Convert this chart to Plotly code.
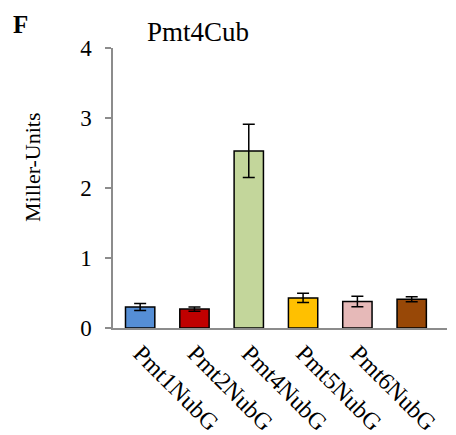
import plotly.graph_objects as go

categories = ["Pmt1NubG", "Pmt2NubG", "Pmt4NubG", "Pmt5NubG", "Pmt6NubG", "NubG"]
values = [0.30, 0.27, 2.53, 0.43, 0.38, 0.41]
errors = [0.05, 0.03, 0.38, 0.065, 0.075, 0.035]
colors = ["#558ED5", "#C00000", "#C3D69B", "#FFC000", "#E6B9B8", "#984807"]
y_ticks = [0, 1, 2, 3, 4]

FONT = "Liberation Serif, Times New Roman, serif"

fig = go.Figure()
fig.add_trace(go.Bar(
    x=list(range(len(categories))),
    y=values,
    width=0.54,
    marker=dict(color=colors, line=dict(color="black", width=1.5)),
    error_y=dict(type="data", array=errors, visible=True, color="black",
                 thickness=1.5, width=6),
))

fig.update_layout(
    width=456, height=435,
    margin=dict(l=113, r=9, t=48, b=107),
    paper_bgcolor="white", plot_bgcolor="white",
    showlegend=False,
    font=dict(family=FONT, color="black", size=22),
    xaxis=dict(
        tickmode="array", tickvals=list(range(len(categories))), ticktext=categories,
        range=[-0.5, 5.65], tickangle=45, showline=True, linecolor="#8c8c8c",
        linewidth=1.5, ticks="", showgrid=False, zeroline=False,
        tickfont=dict(size=24, family=FONT), automargin=False,
    ),
    yaxis=dict(
        range=[0, 4], tickvals=y_ticks, showline=True, linecolor="#8c8c8c",
        linewidth=1.5, ticks="outside", ticklen=6, tickcolor="#8c8c8c",
        tickwidth=1.5, showgrid=False, zeroline=False,
        tickfont=dict(size=23, family=FONT), ticklabelstandoff=9,
        automargin=False,
    ),
    annotations=[
        dict(text="Pmt4Cub", x=198, y=32, font=dict(size=27, family=FONT)),
        dict(text="<b>F</b>", x=20, y=24, font=dict(size=25, family=FONT)),
        dict(text="Miller-Units", x=32, y=167, textangle=-90,
             font=dict(size=22, family=FONT)),
    ],
)

# convert pixel positions of annotations into paper coords
pw = 456 - 113 - 9
ph = 435 - 48 - 107
for ann in fig.layout.annotations:
    px, py = ann.x, ann.y
    ann.x = (px - 113) / pw
    ann.y = 1 + (48 - py) / ph
    ann.xref = "paper"
    ann.yref = "paper"
    ann.showarrow = False
    ann.xanchor = "center"
    ann.yanchor = "middle"

fig.write_html("out.html")
